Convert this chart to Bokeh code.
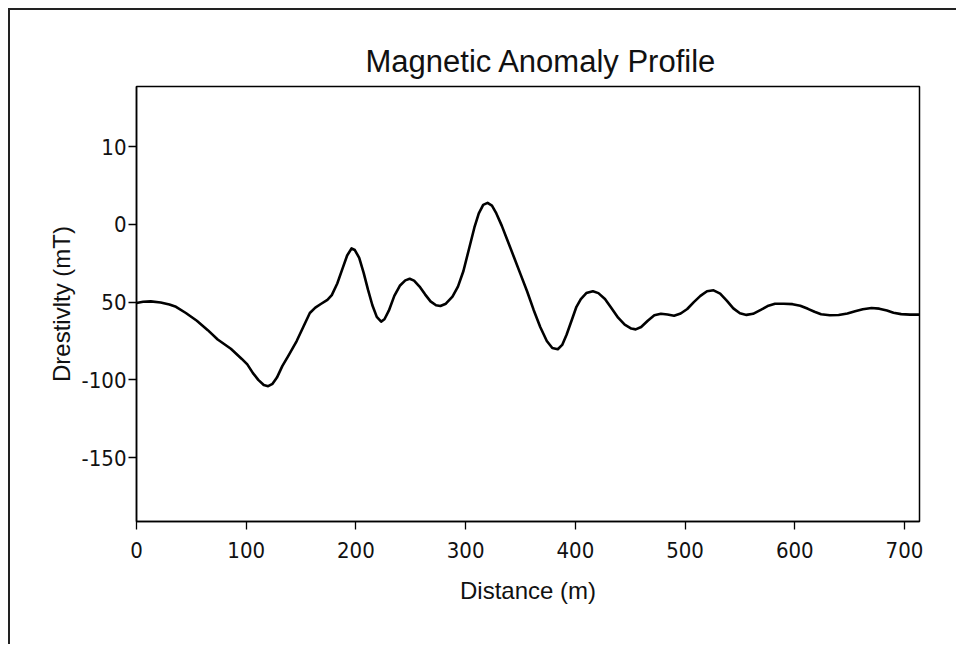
from bokeh.plotting import figure
from bokeh.models import FixedTicker, Range1d
from bokeh.embed import file_html
from bokeh.resources import INLINE

# ---- data ----
distance = [0, 6, 13, 22, 30, 36, 45, 55, 65, 74, 86, 96, 101, 106, 111, 116, 120, 124, 128, 133,
            138, 146, 152, 158, 163, 168, 174, 178, 183, 188, 192, 196, 199, 203, 207, 211, 215, 219,
            223, 226, 230, 235, 240, 245, 249, 253, 258, 263, 268, 273, 277, 282, 288, 293, 298, 303,
            308, 312, 316, 320, 324, 328, 333, 338, 344, 350, 356, 362, 368, 374, 379, 384, 388, 392,
            397, 401, 405, 410, 416, 421, 427, 433, 439, 445, 451, 455, 460, 466, 472, 478, 484, 490,
            496, 502, 508, 514, 520, 526, 532, 538, 544, 550, 556, 562, 569, 576, 582, 590, 598, 605,
            612, 618, 624, 632, 640, 648, 655, 662, 670, 677, 684, 690, 697, 705, 714]
anomaly = [-50.5, -49.8, -49.5, -50.2, -51.5, -53, -57, -62, -68, -74, -80, -86.5, -90, -95.5, -100,
           -103.3, -104, -102.5, -98.5, -91, -85, -75, -66, -57, -53.5, -51.2, -48.5, -45.5, -38, -28,
           -20, -15.5, -16.5, -21.5, -31, -42, -52, -59.5, -62.5, -61, -55.5, -46, -39.5, -36, -35,
           -36.2, -40, -45, -49.5, -52, -52.5, -51, -46.5, -40, -30, -16, -2, 7, 12.5, 13.8, 12, 7,
           -1, -10, -21, -32, -43, -55, -66, -75, -79.5, -80.3, -77.5, -71, -61, -53, -48, -44.2, -43,
           -44.2, -48, -54, -60, -64.5, -67, -67.5, -66, -62, -58.5, -57.5, -58, -58.8, -57.3, -54.4,
           -50, -46, -43, -42.4, -44.5, -49, -54, -57.2, -58.2, -57.5, -55, -52.3, -51, -51, -51.3,
           -52.3, -54.3, -56.2, -57.8, -58.4, -58.3, -57.3, -55.8, -54.6, -53.8, -54.2, -55.4, -56.8,
           -57.7, -58, -58]

x_ticks = [0, 100, 200, 300, 400, 500, 600, 700]
y_ticks = [50, 0, -50, -100, -150]
y_tick_labels = ["10", "0", "50", "-100", "-150"]

TICK_FONT = "'DejaVu Sans Condensed', 'Liberation Sans', sans-serif"
LABEL_FONT = "Liberation Sans"

p = figure(width=948, height=636, output_backend="svg", toolbar_location=None,
           x_range=Range1d(0, 713.7), y_range=Range1d(-191, 88.6),
           min_border_left=126, min_border_top=76, min_border_right=39, min_border_bottom=125,
           title="Magnetic Anomaly Profile")
p.styles = {"border-top": "2px solid #222", "border-left": "2px solid #222",
            "margin-left": "8px", "margin-top": "8px"}

p.title.align = "left"
p.title.offset = 229
p.title.text_font = LABEL_FONT
p.title.text_font_size = "31px"
p.title.text_font_style = "normal"
p.title.text_color = "#111"
p.title.standoff = 15

p.line(distance, anomaly, line_color="black", line_width=2.6, line_join="round")

p.grid.visible = False
p.outline_line_color = "black"
p.outline_line_width = 1.5
p.background_fill_color = "white"
p.border_fill_color = "white"

for ax in (p.xaxis[0], p.yaxis[0]):
    ax.axis_line_color = "black"
    ax.axis_line_width = 1.5
    ax.major_tick_line_color = "black"
    ax.major_tick_line_width = 1.3
    ax.major_tick_out = 8
    ax.major_tick_in = 0
    ax.minor_tick_line_color = None
    ax.major_label_text_font = TICK_FONT
    ax.major_label_text_font_size = "22px"
    ax.major_label_text_color = "#111"
    ax.axis_label_text_font = LABEL_FONT
    ax.axis_label_text_font_size = "24px"
    ax.axis_label_text_font_style = "normal"
    ax.axis_label_text_color = "#111"

p.xaxis.ticker = FixedTicker(ticks=x_ticks)
p.yaxis.ticker = FixedTicker(ticks=y_ticks)
p.yaxis.major_label_overrides = {t: s for t, s in zip(y_ticks, y_tick_labels)}
p.xaxis.axis_label = "Distance (m)"
p.yaxis.axis_label = "Drestivlty (mT)"
p.xaxis.major_label_standoff = 12
p.yaxis.major_label_standoff = 2
p.xaxis.axis_label_standoff = 16
p.yaxis.axis_label_standoff = 4

open("out.html", "w").write(file_html(p, INLINE))
